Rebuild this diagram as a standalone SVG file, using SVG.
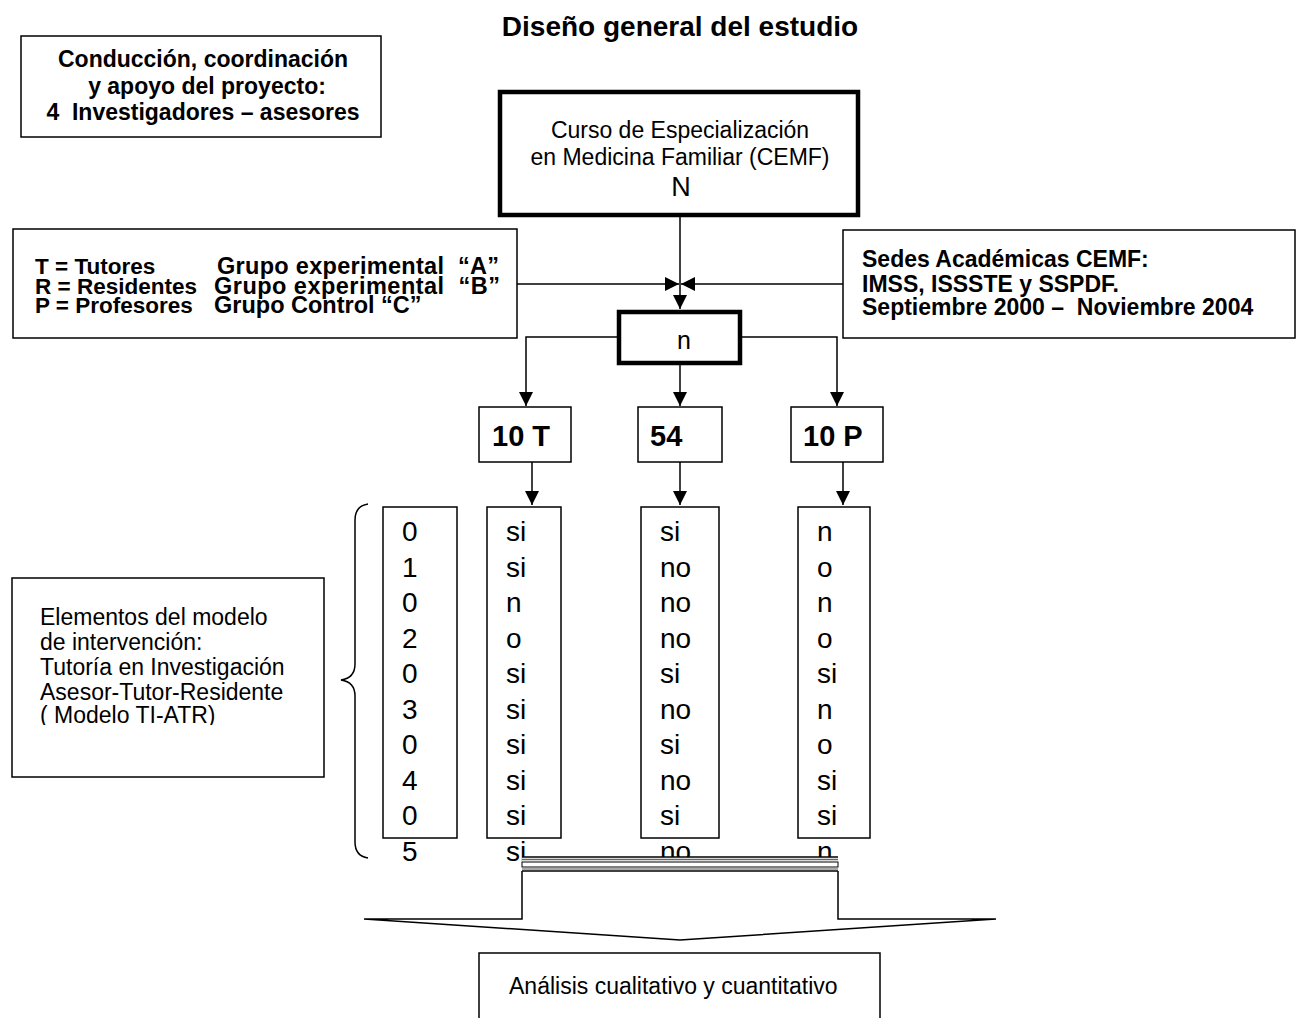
<svg xmlns="http://www.w3.org/2000/svg" width="1296" height="1018" viewBox="0 0 1296 1018">
<style>
text{font-family:"Liberation Sans",Arial,sans-serif;fill:#000}
.b{font-weight:bold;font-size:23px}
.g{font-weight:bold;font-size:22.5px}
.g2{font-size:23.5px}
.r{font-size:23px}
.col{font-size:28px}
.box{fill:#fff;stroke:#000;stroke-width:1.5}
.thick{fill:#fff;stroke:#000;stroke-width:4.5}
.ln{fill:none;stroke:#000;stroke-width:1.5}
</style>
<defs>
<marker id="ah2" viewBox="0 0 10 10" refX="10" refY="5" markerWidth="14" markerHeight="14" markerUnits="userSpaceOnUse" orient="auto">
<path d="M0,0 L10,5 L0,10 Z" fill="#000"/>
</marker>
<clipPath id="clipModelo"><rect x="12" y="700" width="312" height="25"/></clipPath>
</defs>

<text class="b" x="680" y="36" text-anchor="middle" style="font-size:28px">Diseño general del estudio</text>

<g id="conduccion">
<rect class="box" x="21" y="36" width="360" height="101"/>
<text class="b" x="203" y="67" text-anchor="middle">Conducción, coordinación</text>
<text class="b" x="207" y="93.5" text-anchor="middle">y apoyo del proyecto:</text>
<text class="b" x="203" y="120" text-anchor="middle" xml:space="preserve">4  Investigadores – asesores</text>
</g>

<g id="cemf">
<rect class="thick" x="500" y="92" width="358" height="123"/>
<text class="r" x="680" y="138" text-anchor="middle">Curso de Especialización</text>
<text class="r" x="680" y="165" text-anchor="middle">en Medicina Familiar (CEMF)</text>
<text x="681" y="196" text-anchor="middle" style="font-size:27px">N</text>
</g>

<g id="grupos">
<rect class="box" x="13" y="229" width="504" height="109"/>
<text class="g" y="274" xml:space="preserve"><tspan x="35">T = Tutores</tspan><tspan class="g2" x="217" textLength="282" lengthAdjust="spacing">Grupo experimental  “A”</tspan></text>
<text class="g" y="294" xml:space="preserve"><tspan x="35">R = Residentes</tspan><tspan class="g2" x="214" textLength="286" lengthAdjust="spacing">Grupo experimental  “B”</tspan></text>
<text class="g" y="313" xml:space="preserve"><tspan x="35">P = Profesores</tspan><tspan class="g2" x="214">Grupo Control “C”</tspan></text>
</g>

<g id="sedes">
<rect class="box" x="843" y="230" width="452" height="108"/>
<text class="b" x="862" y="267">Sedes Académicas CEMF:</text>
<text class="b" x="862" y="292">IMSS, ISSSTE y SSPDF.</text>
<text class="b" x="862" y="315" xml:space="preserve">Septiembre 2000 –  Noviembre 2004</text>
</g>

<g id="n">
<rect class="thick" x="619" y="312" width="121" height="51"/>
<text class="r" x="684" y="349" text-anchor="middle" style="font-size:25px">n</text>
</g>

<g id="g10T">
<rect class="box" x="479" y="407" width="92" height="55"/>
<text class="b" x="492" y="446" style="font-size:29px">10 T</text>
</g>
<g id="g54">
<rect class="box" x="638" y="407" width="84" height="55"/>
<text class="b" x="650" y="446" style="font-size:29px">54</text>
</g>
<g id="g10P">
<rect class="box" x="791" y="407" width="92" height="55"/>
<text class="b" x="803" y="446" style="font-size:29px">10 P</text>
</g>

<g id="elementos">
<rect class="box" x="12" y="578" width="312" height="199"/>
<text class="r" x="40" y="625">Elementos del modelo</text>
<text class="r" x="40" y="650">de intervención:</text>
<text class="r" x="40" y="675">Tutoría en Investigación</text>
<text class="r" x="40" y="700">Asesor-Tutor-Residente</text>
<text class="r" x="40" y="723" clip-path="url(#clipModelo)">( Modelo TI-ATR)</text>
</g>

<g id="brace">
<path class="ln" d="M368,504 Q355,506 355,520 L355,664 Q355,678 341,680 Q355,682 355,696 L355,842 Q355,856 368,858"/>
</g>

<g id="col-digits">
<rect class="box" x="383" y="507" width="74" height="331"/>
<text class="col" x="402" y="541">0</text>
<text class="col" x="402" y="576.5">1</text>
<text class="col" x="402" y="612">0</text>
<text class="col" x="402" y="647.5">2</text>
<text class="col" x="402" y="683">0</text>
<text class="col" x="402" y="718.5">3</text>
<text class="col" x="402" y="754">0</text>
<text class="col" x="402" y="789.5">4</text>
<text class="col" x="402" y="825">0</text>
<text class="col" x="402" y="860.5">5</text>
</g>

<g id="col-T">
<rect class="box" x="487" y="507" width="74" height="331"/>
<text class="col" x="506" y="541">si</text>
<text class="col" x="506" y="576.5">si</text>
<text class="col" x="506" y="612">n</text>
<text class="col" x="506" y="647.5">o</text>
<text class="col" x="506" y="683">si</text>
<text class="col" x="506" y="718.5">si</text>
<text class="col" x="506" y="754">si</text>
<text class="col" x="506" y="789.5">si</text>
<text class="col" x="506" y="825">si</text>
<text class="col" x="506" y="860.5">si</text>
</g>

<g id="col-54">
<rect class="box" x="641" y="507" width="78" height="331"/>
<text class="col" x="660" y="541">si</text>
<text class="col" x="660" y="576.5">no</text>
<text class="col" x="660" y="612">no</text>
<text class="col" x="660" y="647.5">no</text>
<text class="col" x="660" y="683">si</text>
<text class="col" x="660" y="718.5">no</text>
<text class="col" x="660" y="754">si</text>
<text class="col" x="660" y="789.5">no</text>
<text class="col" x="660" y="825">si</text>
<text class="col" x="660" y="860.5">no</text>
</g>

<g id="col-P">
<rect class="box" x="798" y="507" width="72" height="331"/>
<text class="col" x="817" y="541">n</text>
<text class="col" x="817" y="576.5">o</text>
<text class="col" x="817" y="612">n</text>
<text class="col" x="817" y="647.5">o</text>
<text class="col" x="817" y="683">si</text>
<text class="col" x="817" y="718.5">n</text>
<text class="col" x="817" y="754">o</text>
<text class="col" x="817" y="789.5">si</text>
<text class="col" x="817" y="825">si</text>
<text class="col" x="817" y="860.5">n</text>
</g>

<g id="connectors">
<path class="ln" d="M680,215 L680,309" marker-end="url(#ah2)"/>
<path class="ln" d="M517,284 L679,284" marker-end="url(#ah2)"/>
<path class="ln" d="M843,284 L681,284" marker-end="url(#ah2)"/>
<path class="ln" d="M619,337 L526,337 L526,406" marker-end="url(#ah2)"/>
<path class="ln" d="M680,363 L680,406" marker-end="url(#ah2)"/>
<path class="ln" d="M740,337 L837,337 L837,406" marker-end="url(#ah2)"/>
<path class="ln" d="M532,462 L532,505" marker-end="url(#ah2)"/>
<path class="ln" d="M680,462 L680,505" marker-end="url(#ah2)"/>
<path class="ln" d="M843,462 L843,505" marker-end="url(#ah2)"/>
</g>

<g id="merge-arrow">
<path d="M522,857 L838,857 L838,919 L996,919 L680,940 L364,919 L522,919 Z" fill="#fff" stroke="none"/>
<path class="ln" d="M364,919 L522,919 L522,871 M838,871 L838,919 L996,919 L680,940 L364,919"/>
<line x1="522" y1="857" x2="838" y2="857" stroke="#000" stroke-width="1.5"/>
<line x1="522" y1="859.5" x2="838" y2="859.5" stroke="#666" stroke-width="1.5"/>
<rect x="522" y="862" width="316" height="5" fill="#fff" stroke="#000" stroke-width="1"/>
<line x1="522" y1="869" x2="838" y2="869" stroke="#555" stroke-width="1.2"/>
<line x1="522" y1="871" x2="838" y2="871" stroke="#000" stroke-width="1.5"/>
</g>

<g id="analisis">
<rect class="box" x="479" y="953" width="401" height="80"/>
<text class="r" x="509" y="994">Análisis cualitativo y cuantitativo</text>
</g>
</svg>
